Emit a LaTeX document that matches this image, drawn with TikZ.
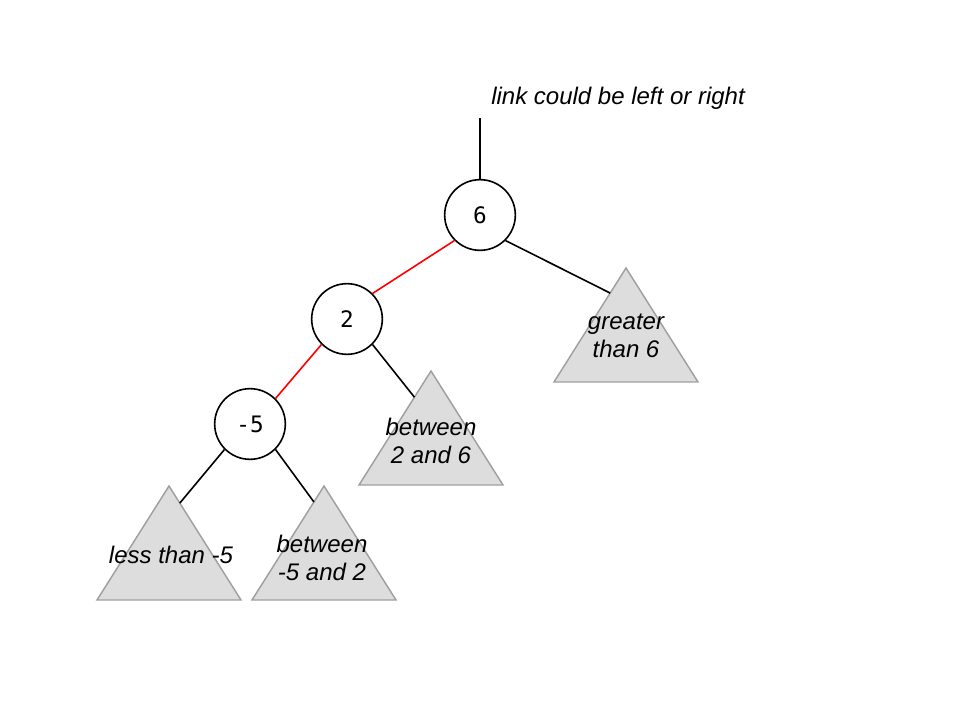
\documentclass[tikz,border=0pt]{standalone}
\usepackage{fontspec}
\setmainfont{Liberation Sans}
\setmonofont{DejaVu Sans Mono}
\usepackage{tikz}
\usetikzlibrary{calc, positioning}
\definecolor{trifill}{HTML}{DDDDDD}
\definecolor{triline}{HTML}{A0A0A0}

\begin{document}
\begin{tikzpicture}[x=0.75pt, y=-0.75pt]
	\tikzstyle{key} = [ draw, circle, line width=1.2pt, minimum size=53pt, inner sep=0pt, font={\ttfamily\fontsize{17}{20}\selectfont}];
	\tikzstyle{info} = [ align=center, inner sep=0pt, font={\itshape\fontsize{18}{21}\selectfont}];
	\tikzstyle{tri} = [ draw=triline, fill=trifill, line width=1.1pt, line join=miter];
	\tikzstyle{link} = [ line width=1.2pt ];
	\tikzstyle{redlink} = [ line width=1.2pt, color=red ];

	\useasboundingbox (0,0) rectangle (960,720);

	% keys
	\node[key] (k6) at (480,215) {6};
	\node[key] (k2) at (347,319) {2};
	\node[key] (k5) at (250,424) {-5};

	% subtrees
	\foreach \nm/\ax/\ay in {gt/626/268, btw/431/371, lt/169/486, bfn/324/486} {
		\coordinate (\nm) at (\ax,\ay);
		\coordinate (\nm-l) at (\ax-72,\ay+114);
		\coordinate (\nm-r) at (\ax+72,\ay+114);
		\draw[tri] (\nm) -- (\nm-l) -- (\nm-r) -- cycle;
	}

	\node[info] (gt-text) at (626,336) {greater\\than 6};
	\node[info] (btw-text) at (431,441) {between\\2 and 6};
	\node[info] (lt-text) at (171,555) {less than -5};
	\node[info] (bfn-text) at (322,558) {between\\-5 and 2};

	% parent link
	\coordinate (top) at (480,118);
	\node[info, anchor=west] (note) at (491,98) {link could be left or right};
	\draw[link] (top) -- (k6.north);

	\draw[redlink] (k6.south west) -- (k2.north east);
	\draw[redlink] (k2.south west) -- (k5.north east);
	\draw[link] (k6.south east) -- ($(gt)!0.22!(gt-l)$);
	\draw[link] (k2.south east) -- ($(btw)!0.23!(btw-l)$);
	\draw[link] (k5.south west) -- ($(lt)!0.15!(lt-r)$);
	\draw[link] (k5.south east) -- ($(bfn)!0.14!(bfn-l)$);
\end{tikzpicture}
\end{document}
